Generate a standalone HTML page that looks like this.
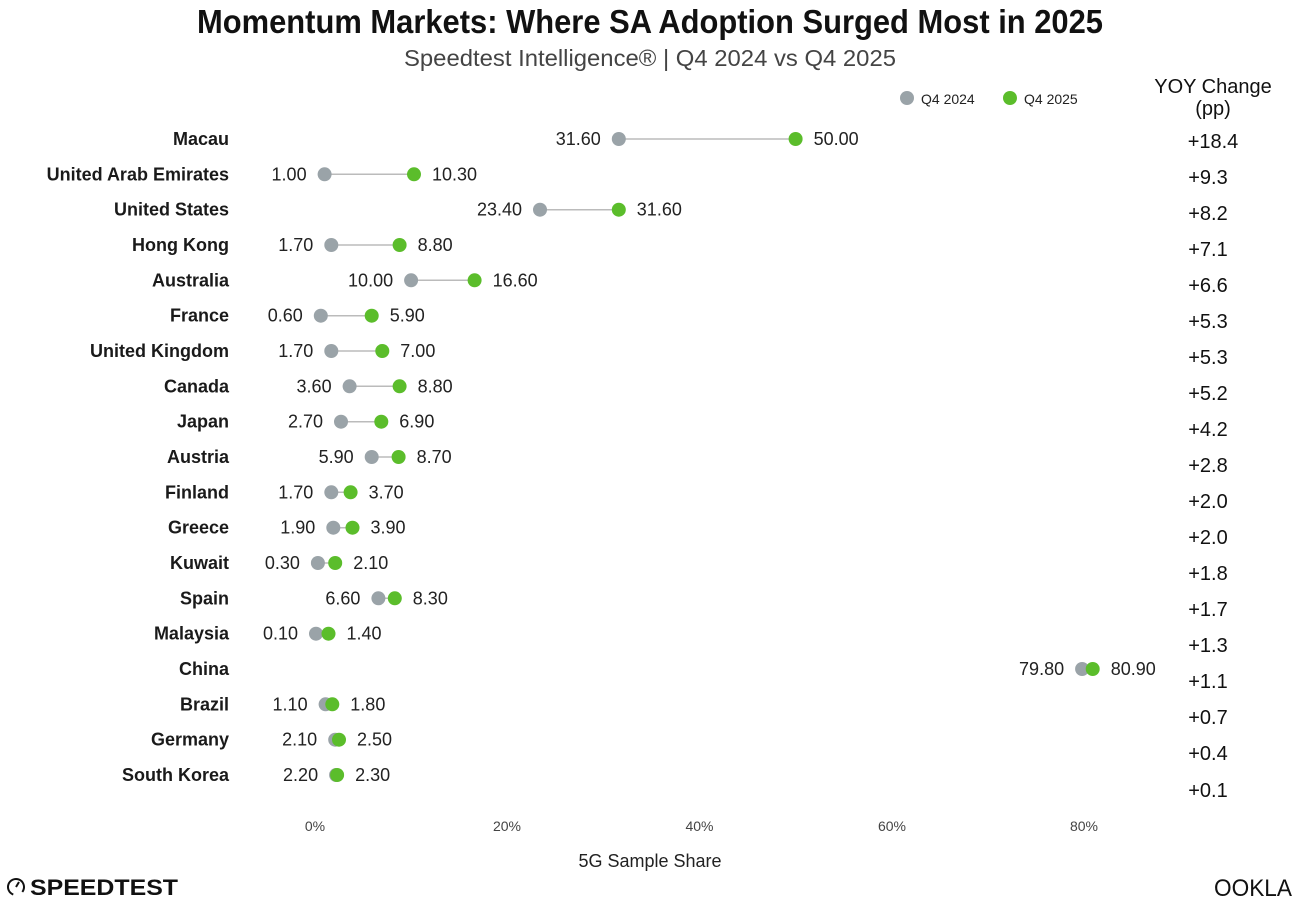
<!DOCTYPE html>
<html><head><meta charset="utf-8"><style>
html,body{margin:0;padding:0;background:#fff;}
svg{display:block;font-family:"Liberation Sans",sans-serif;}
.c{font-size:18px;font-weight:bold;fill:#1a1a1a;text-anchor:end;}
.v{font-size:18px;fill:#222;}
.y{font-size:20px;fill:#111;text-anchor:middle;}
.t{font-size:14px;fill:#444;text-anchor:middle;}
line.s{stroke:#bbb;stroke-width:1.5;}
</style></head><body>
<svg width="1300" height="910" viewBox="0 0 1300 910">
<text x="650" y="33" text-anchor="middle" font-size="33" font-weight="bold" fill="#111" textLength="906" lengthAdjust="spacingAndGlyphs">Momentum Markets: Where SA Adoption Surged Most in 2025</text>
<text x="650" y="66" text-anchor="middle" font-size="23" fill="#444" textLength="492" lengthAdjust="spacingAndGlyphs">Speedtest Intelligence® | Q4 2024 vs Q4 2025</text>
<circle cx="907" cy="98" r="7" fill="#9aa3a8"/><text x="921" y="104" font-size="14" fill="#222">Q4 2024</text>
<circle cx="1010" cy="98" r="7" fill="#5bbd2b"/><text x="1024" y="104" font-size="14" fill="#222">Q4 2025</text>
<text x="1213" y="93" class="y">YOY Change</text>
<text x="1213" y="115" class="y">(pp)</text>
<g>
<!-- rows -->
<text x="229" y="145" class="c">Macau</text><line class="s" x1="618.8" y1="139" x2="795.6" y2="139"/><circle cx="618.8" cy="139" r="7" fill="#9aa3a8"/><circle cx="795.6" cy="139" r="7" fill="#5bbd2b"/><text x="600.8" y="145" class="v" text-anchor="end">31.60</text><text x="813.6" y="145" class="v">50.00</text>
<text x="229" y="180.3" class="c">United Arab Emirates</text><line class="s" x1="324.6" y1="174.3" x2="414" y2="174.3"/><circle cx="324.6" cy="174.3" r="7" fill="#9aa3a8"/><circle cx="414" cy="174.3" r="7" fill="#5bbd2b"/><text x="306.6" y="180.3" class="v" text-anchor="end">1.00</text><text x="432" y="180.3" class="v">10.30</text>
<text x="229" y="215.7" class="c">United States</text><line class="s" x1="540" y1="209.7" x2="618.8" y2="209.7"/><circle cx="540" cy="209.7" r="7" fill="#9aa3a8"/><circle cx="618.8" cy="209.7" r="7" fill="#5bbd2b"/><text x="522" y="215.7" class="v" text-anchor="end">23.40</text><text x="636.8" y="215.7" class="v">31.60</text>
<text x="229" y="251" class="c">Hong Kong</text><line class="s" x1="331.3" y1="245" x2="399.6" y2="245"/><circle cx="331.3" cy="245" r="7" fill="#9aa3a8"/><circle cx="399.6" cy="245" r="7" fill="#5bbd2b"/><text x="313.3" y="251" class="v" text-anchor="end">1.70</text><text x="417.6" y="251" class="v">8.80</text>
<text x="229" y="286.3" class="c">Australia</text><line class="s" x1="411.1" y1="280.3" x2="474.6" y2="280.3"/><circle cx="411.1" cy="280.3" r="7" fill="#9aa3a8"/><circle cx="474.6" cy="280.3" r="7" fill="#5bbd2b"/><text x="393.1" y="286.3" class="v" text-anchor="end">10.00</text><text x="492.6" y="286.3" class="v">16.60</text>
<text x="229" y="321.7" class="c">France</text><line class="s" x1="320.8" y1="315.7" x2="371.7" y2="315.7"/><circle cx="320.8" cy="315.7" r="7" fill="#9aa3a8"/><circle cx="371.7" cy="315.7" r="7" fill="#5bbd2b"/><text x="302.8" y="321.7" class="v" text-anchor="end">0.60</text><text x="389.7" y="321.7" class="v">5.90</text>
<text x="229" y="357" class="c">United Kingdom</text><line class="s" x1="331.3" y1="351" x2="382.3" y2="351"/><circle cx="331.3" cy="351" r="7" fill="#9aa3a8"/><circle cx="382.3" cy="351" r="7" fill="#5bbd2b"/><text x="313.3" y="357" class="v" text-anchor="end">1.70</text><text x="400.3" y="357" class="v">7.00</text>
<text x="229" y="392.3" class="c">Canada</text><line class="s" x1="349.6" y1="386.3" x2="399.6" y2="386.3"/><circle cx="349.6" cy="386.3" r="7" fill="#9aa3a8"/><circle cx="399.6" cy="386.3" r="7" fill="#5bbd2b"/><text x="331.6" y="392.3" class="v" text-anchor="end">3.60</text><text x="417.6" y="392.3" class="v">8.80</text>
<text x="229" y="427.7" class="c">Japan</text><line class="s" x1="341" y1="421.7" x2="381.3" y2="421.7"/><circle cx="341" cy="421.7" r="7" fill="#9aa3a8"/><circle cx="381.3" cy="421.7" r="7" fill="#5bbd2b"/><text x="323" y="427.7" class="v" text-anchor="end">2.70</text><text x="399.3" y="427.7" class="v">6.90</text>
<text x="229" y="463" class="c">Austria</text><line class="s" x1="371.7" y1="457" x2="398.6" y2="457"/><circle cx="371.7" cy="457" r="7" fill="#9aa3a8"/><circle cx="398.6" cy="457" r="7" fill="#5bbd2b"/><text x="353.7" y="463" class="v" text-anchor="end">5.90</text><text x="416.6" y="463" class="v">8.70</text>
<text x="229" y="498.3" class="c">Finland</text><line class="s" x1="331.3" y1="492.3" x2="350.6" y2="492.3"/><circle cx="331.3" cy="492.3" r="7" fill="#9aa3a8"/><circle cx="350.6" cy="492.3" r="7" fill="#5bbd2b"/><text x="313.3" y="498.3" class="v" text-anchor="end">1.70</text><text x="368.6" y="498.3" class="v">3.70</text>
<text x="229" y="533.7" class="c">Greece</text><line class="s" x1="333.3" y1="527.7" x2="352.5" y2="527.7"/><circle cx="333.3" cy="527.7" r="7" fill="#9aa3a8"/><circle cx="352.5" cy="527.7" r="7" fill="#5bbd2b"/><text x="315.3" y="533.7" class="v" text-anchor="end">1.90</text><text x="370.5" y="533.7" class="v">3.90</text>
<text x="229" y="569" class="c">Kuwait</text><line class="s" x1="317.9" y1="563" x2="335.2" y2="563"/><circle cx="317.9" cy="563" r="7" fill="#9aa3a8"/><circle cx="335.2" cy="563" r="7" fill="#5bbd2b"/><text x="299.9" y="569" class="v" text-anchor="end">0.30</text><text x="353.2" y="569" class="v">2.10</text>
<text x="229" y="604.3" class="c">Spain</text><line class="s" x1="378.4" y1="598.3" x2="394.8" y2="598.3"/><circle cx="378.4" cy="598.3" r="7" fill="#9aa3a8"/><circle cx="394.8" cy="598.3" r="7" fill="#5bbd2b"/><text x="360.4" y="604.3" class="v" text-anchor="end">6.60</text><text x="412.8" y="604.3" class="v">8.30</text>
<text x="229" y="639.7" class="c">Malaysia</text><line class="s" x1="316" y1="633.7" x2="328.5" y2="633.7"/><circle cx="316" cy="633.7" r="7" fill="#9aa3a8"/><circle cx="328.5" cy="633.7" r="7" fill="#5bbd2b"/><text x="298" y="639.7" class="v" text-anchor="end">0.10</text><text x="346.5" y="639.7" class="v">1.40</text>
<text x="229" y="675" class="c">China</text><circle cx="1082.1" cy="669" r="7" fill="#9aa3a8"/><circle cx="1092.7" cy="669" r="7" fill="#5bbd2b"/><text x="1064.1" y="675" class="v" text-anchor="end">79.80</text><text x="1110.7" y="675" class="v">80.90</text>
<text x="229" y="710.3" class="c">Brazil</text><circle cx="325.6" cy="704.3" r="7" fill="#9aa3a8"/><circle cx="332.3" cy="704.3" r="7" fill="#5bbd2b"/><text x="307.6" y="710.3" class="v" text-anchor="end">1.10</text><text x="350.3" y="710.3" class="v">1.80</text>
<text x="229" y="745.7" class="c">Germany</text><circle cx="335.2" cy="739.7" r="7" fill="#9aa3a8"/><circle cx="339" cy="739.7" r="7" fill="#5bbd2b"/><text x="317.2" y="745.7" class="v" text-anchor="end">2.10</text><text x="357" y="745.7" class="v">2.50</text>
<text x="229" y="781" class="c">South Korea</text><circle cx="336.1" cy="775" r="7" fill="#9aa3a8"/><circle cx="337.1" cy="775" r="7" fill="#5bbd2b"/><text x="318.1" y="781" class="v" text-anchor="end">2.20</text><text x="355.1" y="781" class="v">2.30</text>
</g>
<g>
<text x="1213" y="148" class="y">+18.4</text>
<text x="1208" y="184" class="y">+9.3</text>
<text x="1208" y="220" class="y">+8.2</text>
<text x="1208" y="256" class="y">+7.1</text>
<text x="1208" y="292" class="y">+6.6</text>
<text x="1208" y="328" class="y">+5.3</text>
<text x="1208" y="364" class="y">+5.3</text>
<text x="1208" y="400" class="y">+5.2</text>
<text x="1208" y="436" class="y">+4.2</text>
<text x="1208" y="472" class="y">+2.8</text>
<text x="1208" y="508" class="y">+2.0</text>
<text x="1208" y="544" class="y">+2.0</text>
<text x="1208" y="580" class="y">+1.8</text>
<text x="1208" y="616" class="y">+1.7</text>
<text x="1208" y="652" class="y">+1.3</text>
<text x="1208" y="688" class="y">+1.1</text>
<text x="1208" y="724" class="y">+0.7</text>
<text x="1208" y="760" class="y">+0.4</text>
<text x="1208" y="797" class="y">+0.1</text>
</g>
<text x="315" y="831" class="t">0%</text>
<text x="507" y="831" class="t">20%</text>
<text x="699.5" y="831" class="t">40%</text>
<text x="892" y="831" class="t">60%</text>
<text x="1084" y="831" class="t">80%</text>
<text x="650" y="867" text-anchor="middle" font-size="18" fill="#222">5G Sample Share</text>
<circle cx="16" cy="887" r="8" fill="none" stroke="#111" stroke-width="2" stroke-dasharray="40 12" transform="rotate(110 16 887)"/>
<line x1="16" y1="887" x2="19" y2="882" stroke="#111" stroke-width="2"/>
<text x="30" y="895" font-size="22" font-weight="bold" fill="#111" textLength="148" lengthAdjust="spacingAndGlyphs">SPEEDTEST</text>
<text x="1214" y="896" font-size="24" fill="#111" textLength="78" lengthAdjust="spacingAndGlyphs">OOKLA</text>
</svg>
</body></html>
